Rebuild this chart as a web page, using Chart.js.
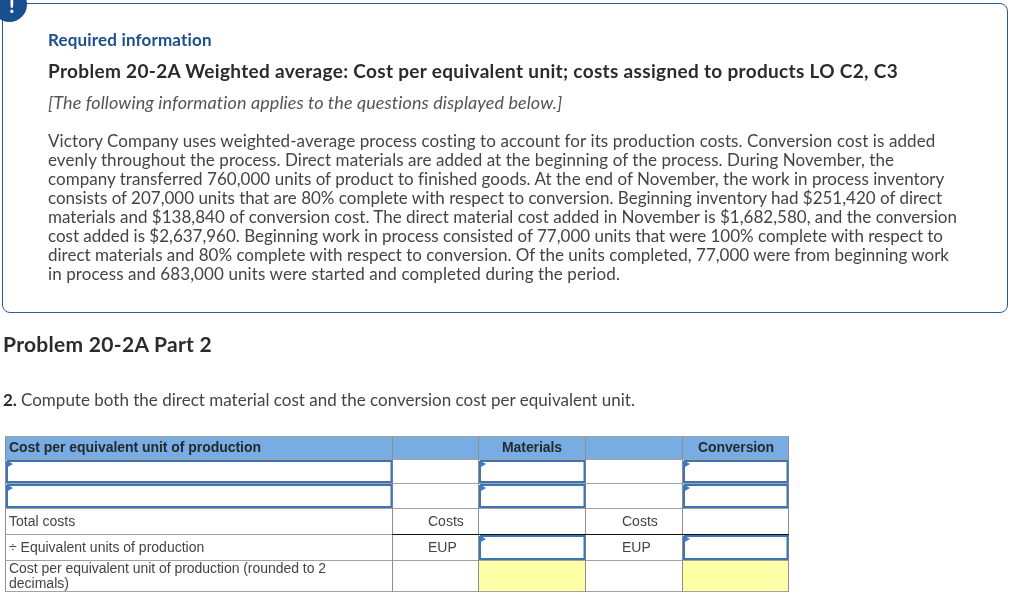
<!DOCTYPE html>
<html>
<head>
<meta charset="utf-8">
<script src="https://cdn.jsdelivr.net/npm/chart.js@4/dist/chart.umd.min.js"></script>
<style>
  html, body { margin: 0; padding: 0; background: #fff; overflow: hidden; }
  #page { position: relative; width: 1024px; height: 609px; overflow: hidden; }
  canvas { position: absolute; left: 0; top: 0; }
  #box { position: absolute; left: 2px; top: 3px; width: 1004px; height: 308px; border: 1px solid #2a5c97; border-radius: 8px; }
  #badge { position: absolute; left: -8px; top: -13px; width: 35px; height: 35px; border-radius: 50%; background: #174f8f; }
  .t { position: absolute; white-space: pre; transform: translateY(-50%); line-height: 1; }
  .prose { font-family: Lato, sans-serif; font-size: 17px; color: #444; }
  .cell { font-family: "Liberation Sans", sans-serif; font-size: 14px; color: #444; }
  .head { font-weight: 700; color: #25292e; }
  .bang { color: #fff; font-weight: 900; font-size: 20px; }
  .required { color: #1c4f8c; font-weight: 700; font-size: 17px; }
  .title { color: #2b2b2b; font-weight: 700; font-size: 19px; }
  .note { color: #555; font-style: italic; font-size: 18px; }
  .part { color: #2b2b2b; font-weight: 700; font-size: 21px; }
  .number { color: #2b2b2b; font-weight: 700; }
</style>
</head>
<body>
<div id="page">
  <canvas id="table" width="1024" height="609"></canvas>
  <div id="box"></div>
  <div id="badge"></div>
</div>
<script>
const requiredLabel = 'Required information'
const problemTitle = 'Problem 20-2A Weighted average: Cost per equivalent unit; costs assigned to products LO C2, C3'
const noteLine = '[The following information applies to the questions displayed below.]'
const promptLines = [
  'Victory Company uses weighted-average process costing to account for its production costs. Conversion cost is added',
  'evenly throughout the process. Direct materials are added at the beginning of the process. During November, the',
  'company transferred 760,000 units of product to finished goods. At the end of November, the work in process inventory',
  'consists of 207,000 units that are 80% complete with respect to conversion. Beginning inventory had $251,420 of direct',
  'materials and $138,840 of conversion cost. The direct material cost added in November is $1,682,580, and the conversion',
  'cost added is $2,637,960. Beginning work in process consisted of 77,000 units that were 100% complete with respect to',
  'direct materials and 80% complete with respect to conversion. Of the units completed, 77,000 were from beginning work',
  'in process and 683,000 units were started and completed during the period.',
]
const promptRightEdges = [936, 894, 944, 942, 957, 943, 949, 620]
const partTitle = 'Problem 20-2A Part 2'
const questionNumber = '2.'
const questionText = 'Compute both the direct material cost and the conversion cost per equivalent unit.'

const tableTitle = 'Cost per equivalent unit of production'
const columnHeaders = ['Materials', 'Conversion']
const rowLabels = ['Total costs', '÷ Equivalent units of production']
const lastRowLabel = ['Cost per equivalent unit of production (rounded to 2', 'decimals)']
const unitLabels = ['Costs', 'EUP']

const columnEdges = [5, 392, 478, 585, 682, 788]
const rowEdges = [436, 459, 483, 508, 534, 560, 591]
const inputCells = [[0, 1], [2, 1], [4, 1], [0, 2], [2, 2], [4, 2], [2, 4], [4, 4]]
const yellowCells = [[2, 5], [4, 5]]

const page = document.getElementById('page')

const addText = (text, x, y, className, rightEdge) => {
  const el = document.createElement('div')
  el.className = `t ${className}`
  el.textContent = text
  el.style.left = `${x}px`
  el.style.top = `${y}px`
  page.appendChild(el)
  if (rightEdge) {
    const extra = (rightEdge - x - el.getBoundingClientRect().width) / text.length
    el.style.letterSpacing = `${extra}px`
  }
  return el
}

const rectPath = (x0, y0, x1, y1) => [
  { x: x0, y: y0 }, { x: x1, y: y0 }, { x: x1, y: y1 }, { x: x0, y: y1 }, { x: x0, y: y0 },
]

const fillRect = (path, color) => ({
  data: path, showLine: true, fill: 'shape', backgroundColor: color, borderWidth: 0, pointRadius: 0,
})

const strokePath = (path, color, width) => ({
  data: path, showLine: true, fill: false, borderColor: color, borderWidth: width, pointRadius: 0,
})

const cellRect = ([col, row]) => [columnEdges[col], rowEdges[row], columnEdges[col + 1], rowEdges[row + 1]]

const tableLeft = columnEdges[0]
const tableRight = columnEdges[columnEdges.length - 1]
const tableTop = rowEdges[0]
const tableBottom = rowEdges[rowEdges.length - 1]

const datasets = []

// fills sit below the grid
datasets.push(fillRect(rectPath(tableLeft, tableTop, tableRight, rowEdges[1]), '#78ade4'))
yellowCells.forEach((cell) => {
  const [x0, y0, x1, y1] = cellRect(cell)
  datasets.push(fillRect(rectPath(x0, y0, x1, y1), '#ffffa8'))
})

rowEdges.forEach((y) => {
  datasets.push(strokePath([{ x: tableLeft, y: y + 0.5 }, { x: tableRight + 1, y: y + 0.5 }], '#a3a3a3', 1))
})
columnEdges.forEach((x) => {
  datasets.push(strokePath([{ x: x + 0.5, y: tableTop }, { x: x + 0.5, y: tableBottom + 1 }], '#8f8f8f', 1))
})
datasets.push(strokePath([{ x: columnEdges[1], y: rowEdges[4] + 0.5 }, { x: tableRight + 1, y: rowEdges[4] + 0.5 }], '#111111', 1))

inputCells.forEach((cell) => {
  const [x0, y0, x1, y1] = cellRect(cell)
  datasets.push(strokePath(rectPath(x0 + 2, y0 + 2, x1 - 0.5, y1 - 1), '#3f74b3', 2))
  datasets.push({
    data: [{ x: x0 + 4, y: y0 + 5 }], showLine: false, pointStyle: 'triangle', rotation: 90,
    pointRadius: 4, pointBackgroundColor: '#3a7bc8', pointBorderWidth: 0,
  })
})

datasets.forEach((dataset, i) => {
  dataset.order = datasets.length - i
  dataset.tension = 0
})

new Chart(document.getElementById('table'), {
  type: 'scatter',
  data: { datasets },
  options: {
    responsive: false,
    devicePixelRatio: 1,
    animation: false,
    events: [],
    layout: { padding: 0, autoPadding: false },
    scales: {
      x: { type: 'linear', min: 0, max: 1024, display: false },
      y: { type: 'linear', min: 0, max: 609, reverse: true, display: false },
    },
    plugins: { legend: { display: false }, tooltip: { enabled: false } },
  },
})

addText('!', 9, 5, 'prose bang')

addText(requiredLabel, 48, 39, 'prose required', 212)
addText(problemTitle, 48, 70, 'prose title', 898)
addText(noteLine, 48, 102, 'prose note', 562)

promptLines.forEach((line, i) => {
  addText(line, 48, 140 + i * 19, 'prose', promptRightEdges[i])
})

addText(partTitle, 3, 343, 'prose part', 212)
addText(questionNumber, 3, 399, 'prose number')
addText(questionText, 21, 399, 'prose', 635)

addText(tableTitle, 9, 447, 'cell head', 261)
addText(columnHeaders[0], 502, 447, 'cell head', 562)
addText(columnHeaders[1], 698, 447, 'cell head', 774)
addText(rowLabels[0], 9, 521, 'cell')
addText(rowLabels[1], 9, 547, 'cell')
addText(lastRowLabel[0], 9, 568, 'cell', 326)
addText(lastRowLabel[1], 9, 583, 'cell')
addText(unitLabels[0], 428, 521, 'cell')
addText(unitLabels[1], 428, 547, 'cell')
addText(unitLabels[0], 622, 521, 'cell')
addText(unitLabels[1], 622, 547, 'cell')
</script>
</body>
</html>
